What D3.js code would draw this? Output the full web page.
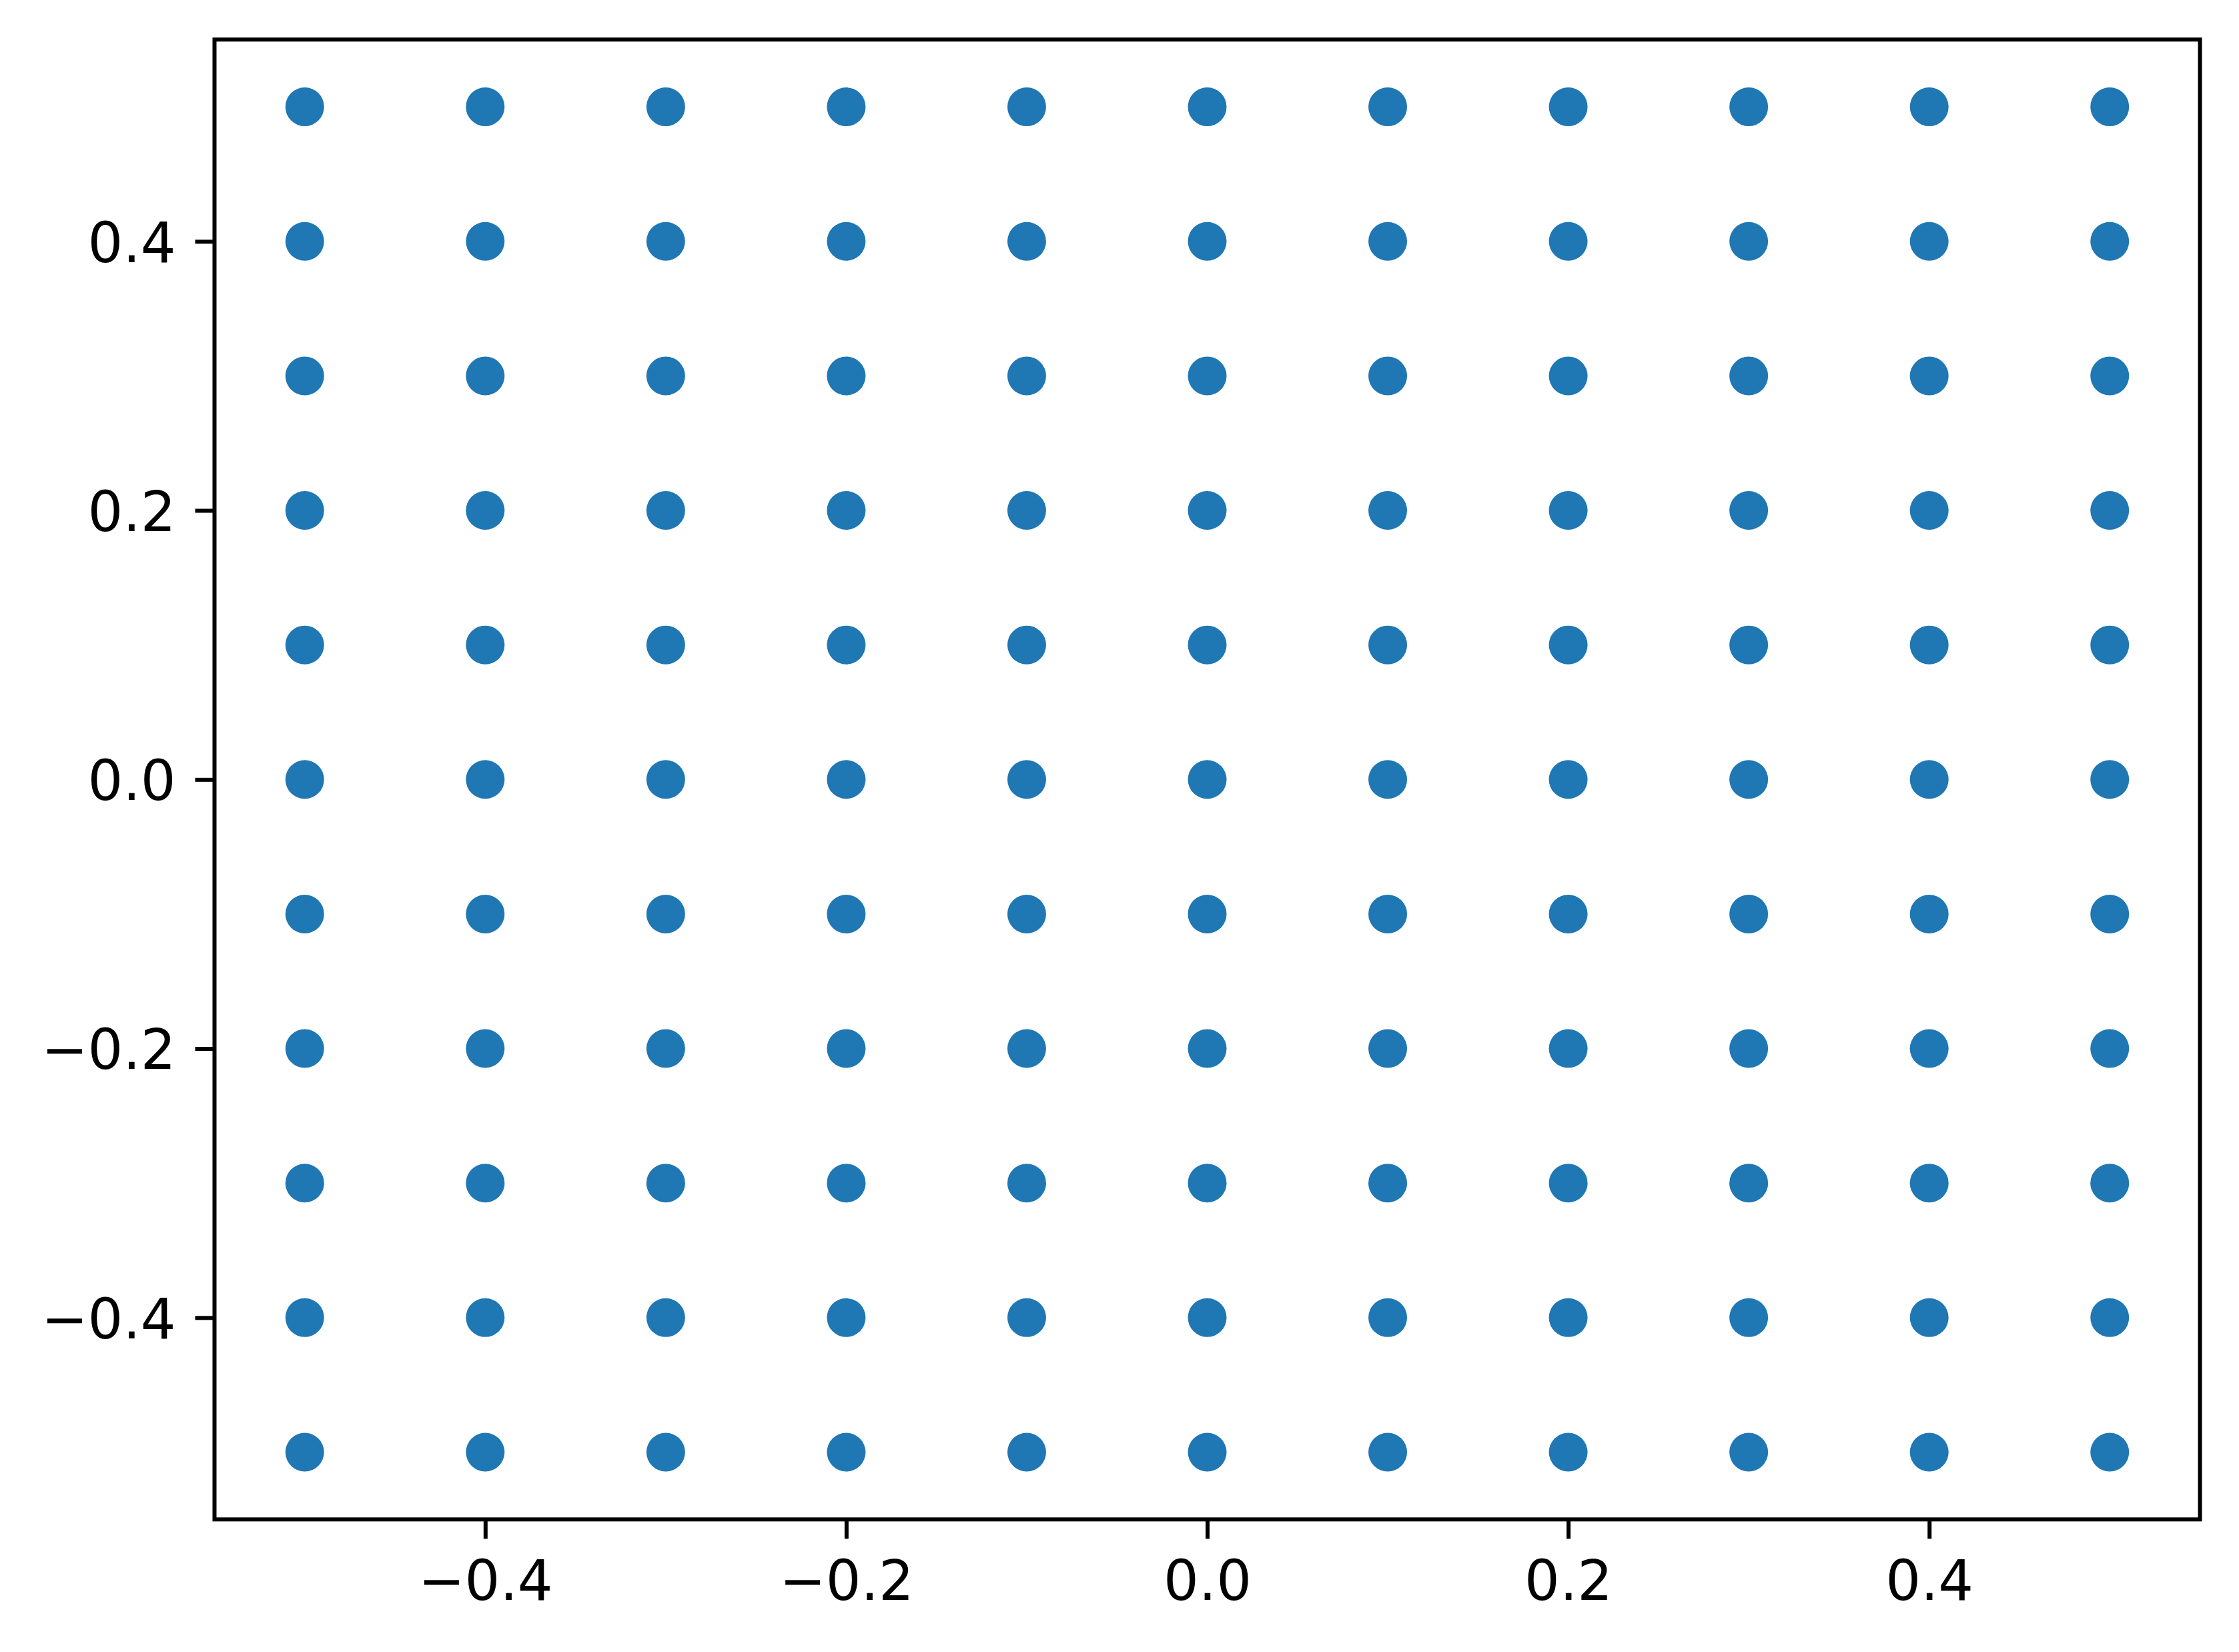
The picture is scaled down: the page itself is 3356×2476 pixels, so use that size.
<!DOCTYPE html>
<html>
<head>
<meta charset="utf-8">
<script src="https://cdn.jsdelivr.net/npm/d3@7"></script>
<style>
  html, body { margin: 0; padding: 0; background: #fff; }
  svg { display: block; }
</style>
</head>
<body>
<svg id="chart" width="3356" height="2476"></svg>
<script>
// Data
const xValues = [-0.5, -0.4, -0.3, -0.2, -0.1, 0.0, 0.1, 0.2, 0.3, 0.4, 0.5];
const yValues = [-0.5, -0.4, -0.3, -0.2, -0.1, 0.0, 0.1, 0.2, 0.3, 0.4, 0.5];
const xTicks = [-0.4, -0.2, 0.0, 0.2, 0.4];
const yTicks = [-0.4, -0.2, 0.0, 0.2, 0.4];
const xDomain = [-0.55, 0.55];
const yDomain = [-0.55, 0.55];

(function () {
const points = [];
xValues.forEach(xv => yValues.forEach(yv => points.push({x: xv, y: yv})));

const W = 3356, H = 2476;
const mLeft = 321.5, mRight = 3297.5, mTop = 59.3, mBottom = 2277.3;

const svg = d3.select("#chart");
svg.append("rect").attr("width", W).attr("height", H).attr("fill", "#fff");

const x = d3.scaleLinear().domain(xDomain).range([mLeft, mRight]);
const y = d3.scaleLinear().domain(yDomain).range([mBottom, mTop]);

const fmt = v => {
  const s = d3.format(".1f")(Math.abs(v) < 1e-12 ? 0 : v);
  return s.replace("-", "\u2212");
};

const fontSize = 83;
const tickLen = 29;
const pad = 29;
const lw = 6;

// Points
svg.append("g").selectAll("circle").data(points).join("circle")
  .attr("cx", d => x(d.x))
  .attr("cy", d => y(d.y))
  .attr("r", 29)
  .attr("fill", "#1f77b4");

// X axis
const xAxis = d3.axisBottom(x).tickValues(xTicks).tickFormat(fmt)
  .tickSize(tickLen).tickPadding(pad);
const gx = svg.append("g").attr("transform", `translate(0,${mBottom})`).call(xAxis);
gx.select(".domain").remove();
gx.selectAll(".tick line").attr("stroke", "#000").attr("stroke-width", lw);
gx.selectAll(".tick text")
  .attr("font-family", "DejaVu Sans")
  .attr("font-size", fontSize)
  .attr("fill", "#000")
  .attr("dy", null)
  .attr("y", tickLen + pad + 0.729 * fontSize + 2);

// Y axis
const yAxis = d3.axisLeft(y).tickValues(yTicks).tickFormat(fmt)
  .tickSize(tickLen).tickPadding(pad);
const gy = svg.append("g").attr("transform", `translate(${mLeft},0)`).call(yAxis);
gy.select(".domain").remove();
gy.selectAll(".tick line").attr("stroke", "#000").attr("stroke-width", lw);
gy.selectAll(".tick text")
  .attr("font-family", "DejaVu Sans")
  .attr("font-size", fontSize)
  .attr("fill", "#000")
  .attr("dy", null)
  .attr("y", 0.729 * fontSize / 2);

// Frame
svg.append("rect")
  .attr("x", mLeft).attr("y", mTop)
  .attr("width", mRight - mLeft).attr("height", mBottom - mTop)
  .attr("fill", "none").attr("stroke", "#000").attr("stroke-width", lw)
  .attr("stroke-linejoin", "miter");
})();
</script>
</body>
</html>
